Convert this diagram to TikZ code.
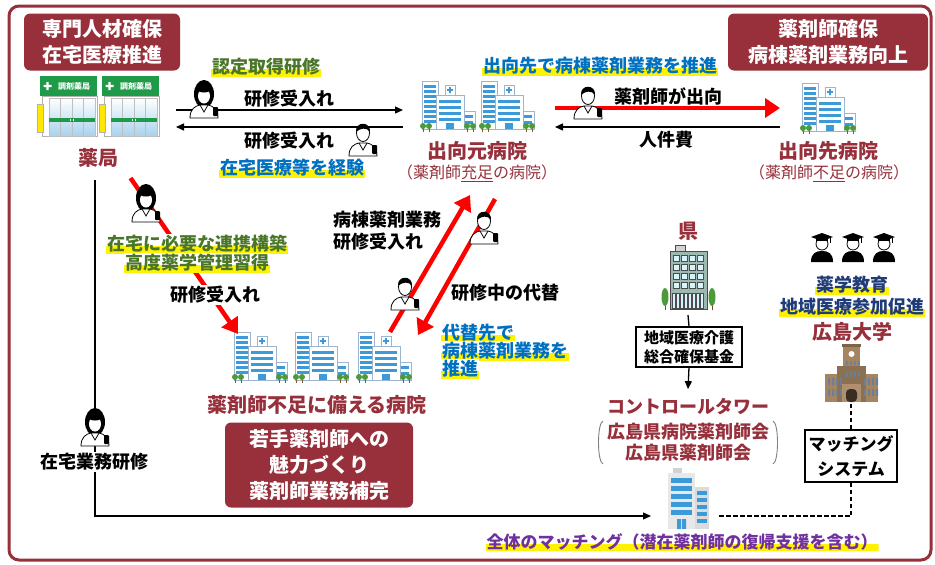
\documentclass[tikz,border=0pt]{standalone}
\usepackage{fontspec}
\setmainfont{Noto Sans CJK JP}
\usetikzlibrary{arrows.meta, positioning}

\definecolor{wine}{HTML}{97303B}
\definecolor{leaf}{HTML}{4A7628}
\definecolor{sky}{HTML}{0070C0}
\definecolor{navy}{HTML}{1F3C78}
\definecolor{violet}{HTML}{7030A0}
\definecolor{glass}{HTML}{3D9AD9}
\definecolor{wall}{HTML}{9FB4D0}
\definecolor{tree}{HTML}{4C9A3A}
\definecolor{shopgreen}{HTML}{1E9A48}
\definecolor{officegreen}{HTML}{9DB8AF}
\definecolor{campus}{HTML}{A58460}
\definecolor{campuswin}{HTML}{6E7F95}

\tikzset{
  banner/.style={fill=wine, text=white, rounded corners=6pt, align=center,
    font=\bfseries\fontsize{20}{26}\selectfont},
  site/.style={text=wine, font=\bfseries\fontsize{20}{23}\selectfont},
  note/.style={text=wine, font=\fontsize{16}{19}\selectfont},
  txt/.style={font=\bfseries\fontsize{18}{22}\selectfont, inner sep=1pt},
  hilite/.style={fill=white, path picture={
    \fill[yellow] ([yshift=-2pt]path picture bounding box.west) rectangle (path picture bounding box.south east);}},
  fundbox/.style={draw, line width=1.2pt, fill=white, align=center, inner sep=3pt,
    font=\bfseries\fontsize{15}{19}\selectfont},
  iconbox/.style={inner sep=0pt, outer sep=0pt},
  bldg/.style={draw=gray!60!black, line width=.6pt},
  redarrow/.style={draw=red, line width=4.5pt, -{Triangle[length=15pt,width=19pt]}},
  blkarrow/.style={line width=1.3pt, -{Triangle[length=8pt,width=7pt]}},
  dashline/.style={line width=1.4pt, dash pattern=on 4.5pt off 2.5pt},
  hospital/.pic={
    \draw[wall, fill=white, line width=.7pt] (-26,-6) rectangle (-10,-54);
    \draw[wall, fill=white, line width=.7pt] (15,-6) rectangle (27,-24);
    \draw[wall, fill=white, line width=.7pt] (-12,-6) rectangle (16,-40);
    \draw[wall, fill=white, line width=.7pt] (-3,-40) rectangle (7,-50);
    \fill[glass] (1.2,-42) rectangle (2.8,-48) (-.8,-44.2) rectangle (4.8,-45.8);
    \foreach \y in {-50,-45,...,-15}
      \fill[glass] (-24,\y) rectangle (-12,\y+2.5);
    \foreach \y in {-35,-29,-23,-17}
      \fill[glass] (-9,\y) rectangle (13,\y+3);
    \foreach \y in {-20,-14}
      \fill[glass] (17,\y) rectangle (25,\y+2.5);
    \fill[white] (-4,-13) rectangle (8,-6);
    \fill[glass] (-2,-12) rectangle (6,-6);
    \foreach \x in {-25,-19,19,25} {
      \draw[brown!70!black, line width=.8pt] (\x,-3) -- (\x,-7);
      \fill[tree] (\x,-9) circle (3);
    }
  },
  pharmacy/.pic={
    \draw[gray!60, fill=white] (2,20) rectangle (57,60);
    \foreach \x in {9,20.5,32,43.5}
      \shade[top color=white, bottom color=glass!45, draw=gray!50] (\x,22) rectangle (\x+11.5,60);
    \fill[shopgreen] (9,42) rectangle (55,46);
    \fill[white] (30,43) rectangle (30.8,45) (33,43) rectangle (33.8,45);
    \fill[shopgreen] (0,0) rectangle (57,20);
    \fill[white] (3.5,8.8) rectangle (11.5,11.2) (6.3,6) rectangle (8.7,14);
    \node[white, font=\bfseries\fontsize{8}{8}\selectfont] at (34,10) {調剤薬局};
    \draw[gray!60, fill=yellow!90!orange] (-3,28) rectangle (3,56);
  },
  woman/.pic={
    \fill (0,-5) ellipse (10 and 14);
    \draw[fill=white, line width=.8pt] (-14,19) .. controls (-14,10) and (-9,7) .. (-4,6)
      -- (4,6) .. controls (9,7) and (14,10) .. (14,19) -- cycle;
    \fill[white] (0,-3) ellipse (6 and 7.5);
    \fill (0,-10) ellipse (7 and 3.5);
    \draw[line width=.8pt] (-4,6) -- (0,13) -- (4,6);
    \fill[rounded corners=1pt] (9,8) rectangle (14,17);
  },
  man/.pic={
    \draw[fill=white, line width=.8pt] (-14,19) .. controls (-14,10) and (-9,7) .. (-4,6)
      -- (4,6) .. controls (9,7) and (14,10) .. (14,19) -- cycle;
    \draw[line width=.8pt] (-4,6) -- (0,13) -- (4,6);
    \draw[fill=white, line width=.8pt] (0,-4) ellipse (6.5 and 8.5);
    \fill (-7,-5) .. controls (-8,-16) and (8,-16) .. (7,-5) .. controls (4,-10) and (-3,-9) .. cycle;
    \fill[rounded corners=1pt] (9,8) rectangle (14,17);
  },
  graduate/.pic={
    \fill (-11,15) .. controls (-11,6) and (-6,4) .. (0,4) .. controls (6,4) and (11,6) .. (11,15) -- cycle;
    \draw[fill=white, line width=.8pt] (0,-3) circle (6);
    \fill (-11,-10) -- (0,-14) -- (11,-10) -- (0,-6) -- cycle;
    \fill (-6,-9) rectangle (6,-6);
    \draw[line width=.7pt] (8,-11) -- (8,-4);
  },
  office/.pic={
    \draw[bldg, fill=gray!35] (-13,-65) rectangle (-3,-59);
    \draw[bldg, fill=officegreen] (-18,-59) rectangle (19,-1);
    \foreach \x in {-15,-7,1,9} \foreach \y in {-55,-46,-37,-28}
      \draw[bldg, fill=white!85!cyan] (\x,\y) rectangle ++(6,6);
    \foreach \x in {-16,-12,...,12}
      \draw[bldg, fill=white!85!cyan] (\x,-17) rectangle ++(3,15);
    \foreach \x in {-23,24} {
      \draw[brown!60!black, line width=1pt] (\x,0) -- (\x,-6);
      \fill[tree] (\x,-13) ellipse (3.5 and 9);
    }
  },
  tower/.pic={
    \fill[gray!35] (-15,-61) rectangle (-6,-56);
    \fill[gray!18] (-20,-56) rectangle (7,0);
    \fill[gray!28] (7,-42) rectangle (21,0);
    \foreach \y in {-51,-43,...,-19}
      \fill[glass] (-17,\y) rectangle (4,\y+5);
    \foreach \y in {-38,-31,...,-10}
      \fill[glass] (9,\y) rectangle (19,\y+4);
    \fill[glass] (-11,-10) rectangle (-7,0) (-6,-10) rectangle (-2,0);
  },
  college/.pic={
    \fill[campus] (-26,-28) rectangle (27,0);
    \fill[campus!85!black] (-14,-36) rectangle (15,0);
    \fill[campus] (-8,-56) rectangle (9,-36);
    \fill[campus!75!black] (-9,-58) rectangle (10,-55);
    \fill[white] (0.5,-48) circle (3);
    \foreach \x in {-23,-19,-15,-11,13,17,21,25}
      \fill[campuswin] (\x,-24) rectangle ++(2,7) (\x,-13) rectangle ++(2,7);
    \foreach \x in {-5,-1,3,7}
      \fill[campuswin] (\x,-31) rectangle ++(1.6,6) (\x,-41) rectangle ++(1.6,4);
    \fill[campus!90!white] (-9,0) rectangle (10,-18);
    \fill[campus!35!black, rounded corners=4pt] (-5,0) -- (-5,-13) -- (6,-13) -- (6,0) -- cycle;
  }
}

\begin{document}
\begin{tikzpicture}[x=1pt, y=-1pt]
  \useasboundingbox (0,0) rectangle (935,565);
  \draw[wine, line width=3pt, rounded corners=10pt] (9,6) rectangle (931,560);

  \node[banner, minimum width=156pt, minimum height=57pt] (leftgoal) at (102,42) {専門人材確保\\在宅医療推進};
  \node[banner, minimum width=200pt, minimum height=57pt] (rightgoal) at (828,42) {薬剤師確保\\病棟薬剤業務向上};
  \node[banner, minimum width=188pt, minimum height=85pt] (youngbox) at (319,465) {若手薬剤師への\\魅力づくり\\薬剤師業務補完};

  % pharmacies
  \node[iconbox, minimum width=124pt, minimum height=62pt] (shops) at (99,106) {};
  \pic at (40,76) {pharmacy};
  \pic at (102,76) {pharmacy};
  \node[site] (yakkyoku) at (98,158) {薬局};

  % hospitals
  \node[iconbox, minimum width=56pt, minimum height=56pt] (srcA) at (448,107) {};
  \node[iconbox, minimum width=56pt, minimum height=56pt] (srcB) at (507,107) {};
  \node[iconbox, minimum width=56pt, minimum height=56pt] (dst) at (828,109) {};
  \node[iconbox, minimum width=56pt, minimum height=56pt] (hosL) at (260,358) {};
  \node[iconbox, minimum width=56pt, minimum height=56pt] (hosM) at (321,358) {};
  \node[iconbox, minimum width=56pt, minimum height=56pt] (hosR) at (384,358) {};
  \foreach \h in {srcA,srcB,dst,hosL,hosM,hosR}
    \pic at (\h.south) {hospital};

  \node[site] (srcname) at (477,151) {出向元病院};
  \node[note] (srcnote) at (477,173) {（薬剤師\underline{充足}の病院）};
  \node[site] (dstname) at (828,151) {出向先病院};
  \node[note] (dstnote) at (829,173) {（薬剤師\underline{不足}の病院）};
  \node[site] (readyname) at (317,405) {薬剤師不足に備える病院};

  % prefecture, control tower, university
  \node[site] (ken) at (688,231) {県};
  \node[iconbox, minimum width=48pt, minimum height=66pt] (kenhq) at (688,277) {};
  \pic at (kenhq.south) {office};
  \node[fundbox, minimum width=106pt, minimum height=40pt] (fund) at (689,347) {地域医療介護\\総合確保基金};
  \node[site, font=\bfseries\fontsize{18}{21}\selectfont] (ctl) at (688,407) {コントロールタワー};
  \node[site, align=center, font=\bfseries\fontsize{18}{21}\selectfont] (assoc) at (688,442) {広島県病院薬剤師会\\広島県薬剤師会};
  \draw[gray, line width=.9pt] (603,421) .. controls (597,423) and (597,462) .. (603,464);
  \draw[gray, line width=.9pt] (773,421) .. controls (779,423) and (779,462) .. (773,464);
  \node[iconbox, minimum width=42pt, minimum height=62pt] (ctower) at (688,498) {};
  \pic at (ctower.south) {tower};

  \foreach \x in {822,853,884}
    \pic at (\x,247) {graduate};
  \node[site] (hiroshima) at (852,332) {広島大学};
  \node[iconbox, minimum width=54pt, minimum height=58pt] (univ) at (851,373) {};
  \pic at (univ.south) {college};
  \node[fundbox, font=\bfseries\fontsize{17}{25}\selectfont, minimum width=92pt, minimum height=52pt] (match) at (851,456) {マッチング\\システム};

  % connectors
  \draw[blkarrow] ([shift={(15,4)}]shops.east) -- ([shift={(-17,3)}]srcA.west);
  \draw[blkarrow] ([shift={(-17,20)}]srcA.west) -- ([shift={(15,21)}]shops.east);
  \draw[redarrow] ([shift={(20,1)}]srcB.east) -- ([shift={(-20,-1)}]dst.west);
  \draw[blkarrow] ([shift={(-20,18)}]dst.west) -- ([shift={(20,20)}]srcB.east);
  \draw[redarrow] ([shift={(9,7)}]yakkyoku.south east) -- ([shift={(6,4)}]hosL.north west);
  \draw[redarrow] ([shift={(6,2)}]hosR.north) -- ([shift={(-7,10)}]srcnote.south);
  \draw[redarrow] ([shift={(18,14)}]srcnote.south) -- ([shift={(34,5)}]hosR.north);
  \draw[blkarrow] ([shift={(-3,9)}]yakkyoku.south) |- ([shift={(-16,18)}]ctower.west);
  \draw[line width=1.3pt] ([yshift=-5pt]kenhq.south) -- (fund.north);
  \draw[blkarrow] (fund.south) -- ([yshift=6pt]ctl.north);
  \draw[dashline] ([shift={(10,18)}]ctower.east) -| (match.south);
  \draw[dashline] (match.north) -- (univ.south);

  % people on the routes
  \pic at (204,99) {woman};
  \pic at (363,137) {man};
  \pic at (588,100) {man};
  \pic at (146,203) {woman};
  \pic at (484,225) {man};
  \pic at (405,291) {man};
  \pic at (95,427) {woman};

  % route texts
  \node[txt] at (289,99) {研修受入れ};
  \node[txt] at (289,141) {研修受入れ};
  \node[txt, hilite, text=leaf] at (266,67) {認定取得研修};
  \node[txt, hilite, text=sky] at (292,168) {在宅医療等を経験};
  \node[txt] at (668,96) {薬剤師が出向};
  \node[txt, hilite, text=sky] at (600,66) {出向先で病棟薬剤業務を推進};
  \node[txt] at (666,140) {人件費};
  \node[txt, hilite, text=leaf] at (197,244) {在宅に必要な連携構築};
  \node[txt, hilite, text=leaf] at (197,263) {高度薬学管理習得};
  \node[txt, fill=white] at (215,295) {研修受入れ};
  \node[txt, align=left, anchor=west] at (332,231) {病棟薬剤業務\\研修受入れ};
  \node[txt] at (505,293) {研修中の代替};
  \node[txt, hilite, text=sky, anchor=west] at (441,333) {代替先で};
  \node[txt, hilite, text=sky, anchor=west] at (441,351) {病棟薬剤業務を};
  \node[txt, hilite, text=sky, anchor=west] at (441,369) {推進};
  \node[txt, fill=white] at (94,462) {在宅業務研修};
  \node[txt, hilite, text=navy] at (852,285) {薬学教育};
  \node[txt, hilite, text=navy] at (852,307) {地域医療参加促進};
  \node[txt, hilite, text=violet, font=\bfseries\fontsize{17}{20}\selectfont] at (682,542) {全体のマッチング（潜在薬剤師の復帰支援を含む）};
\end{tikzpicture}
\end{document}
